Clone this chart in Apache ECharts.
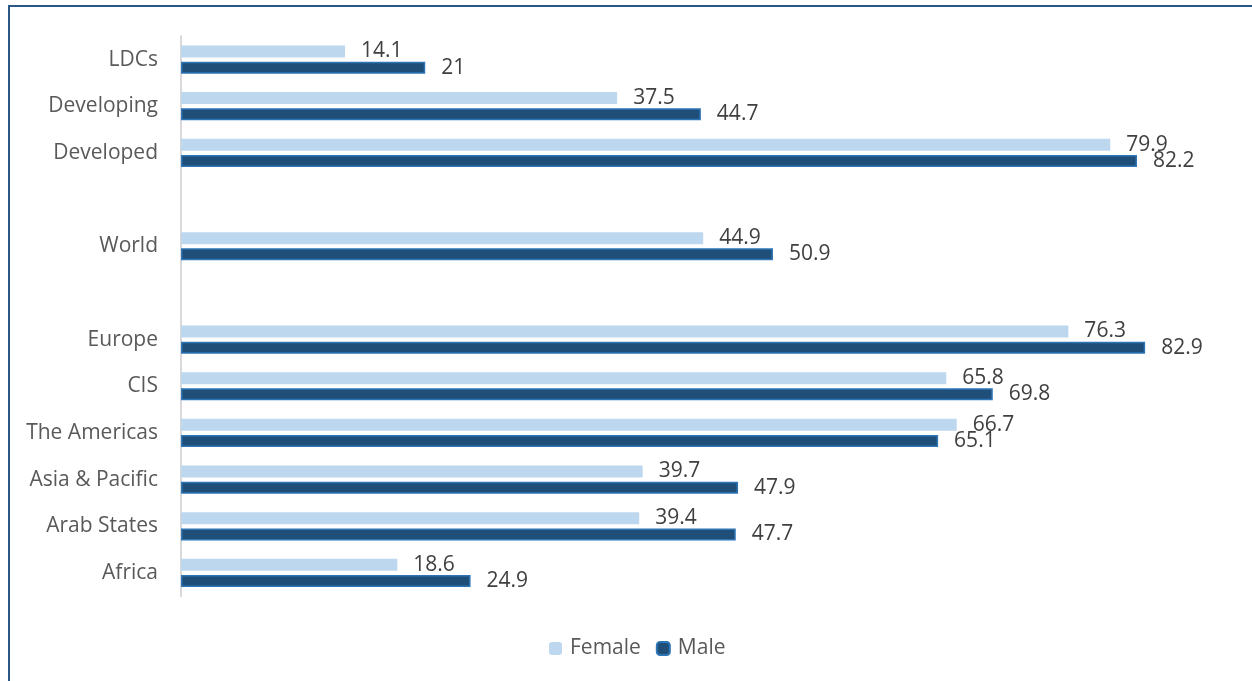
<!DOCTYPE html>
<html>
<head>
<meta charset="utf-8">
<script src="https://cdn.jsdelivr.net/npm/echarts@6/dist/echarts.min.js"></script>
<style>
html,body{margin:0;padding:0;background:#fff;}
#chart{width:1252px;height:681px;position:absolute;left:0;top:0;}
#frame{position:absolute;left:8px;top:5px;right:0;bottom:0;border-top:2px solid #2A5783;border-left:2px solid #2A5783;pointer-events:none;}
</style>
</head>
<body>
<div id="chart"></div>
<div id="frame"></div>
<script>
const categories = ['LDCs','Developing','Developed','','World','','Europe','CIS','The Americas','Asia & Pacific','Arab States','Africa'];
const female = [14.1, 37.5, 79.9, null, 44.9, null, 76.3, 65.8, 66.7, 39.7, 39.4, 18.6];
const male   = [21, 44.7, 82.2, null, 50.9, null, 82.9, 69.8, 65.1, 47.9, 47.7, 24.9];

const chart = echarts.init(document.getElementById('chart'));
const fontFamily = '"Open Sans", sans-serif';
const labelStyle = {show:true, position:'right', distance:16, color:'#404040', fontSize:21, fontFamily:fontFamily};
chart.setOption({
  animation:false,
  grid:{left:181, right:24.3, top:36.2, bottom:84.7, containLabel:false},
  xAxis:{type:'value', min:0, max:90, show:false},
  yAxis:{type:'category', data:categories, inverse:true,
    axisLine:{show:true, lineStyle:{color:'#D9D9D9', width:2}},
    axisTick:{show:false},
    axisLabel:{color:'#595959', fontSize:21, fontFamily:fontFamily, margin:23},
    splitLine:{show:false}},
  legend:{top:633, left:544, itemWidth:13, itemHeight:13, itemGap:15,
    textStyle:{color:'#595959', fontSize:21, fontFamily:fontFamily, padding:[0,0,0,3]},
    data:['Female','Male']},
  series:[
    {name:'Female', type:'bar', data:female, barWidth:12, barGap:'35%',
     itemStyle:{color:'#BDD7EE'}, label:labelStyle},
    {name:'Male', type:'bar', data:male, barWidth:12,
     itemStyle:{color:'#1F4E79', borderColor:'#2E75B6', borderWidth:1.5}, label:labelStyle}
  ]
});
</script>
</body>
</html>
